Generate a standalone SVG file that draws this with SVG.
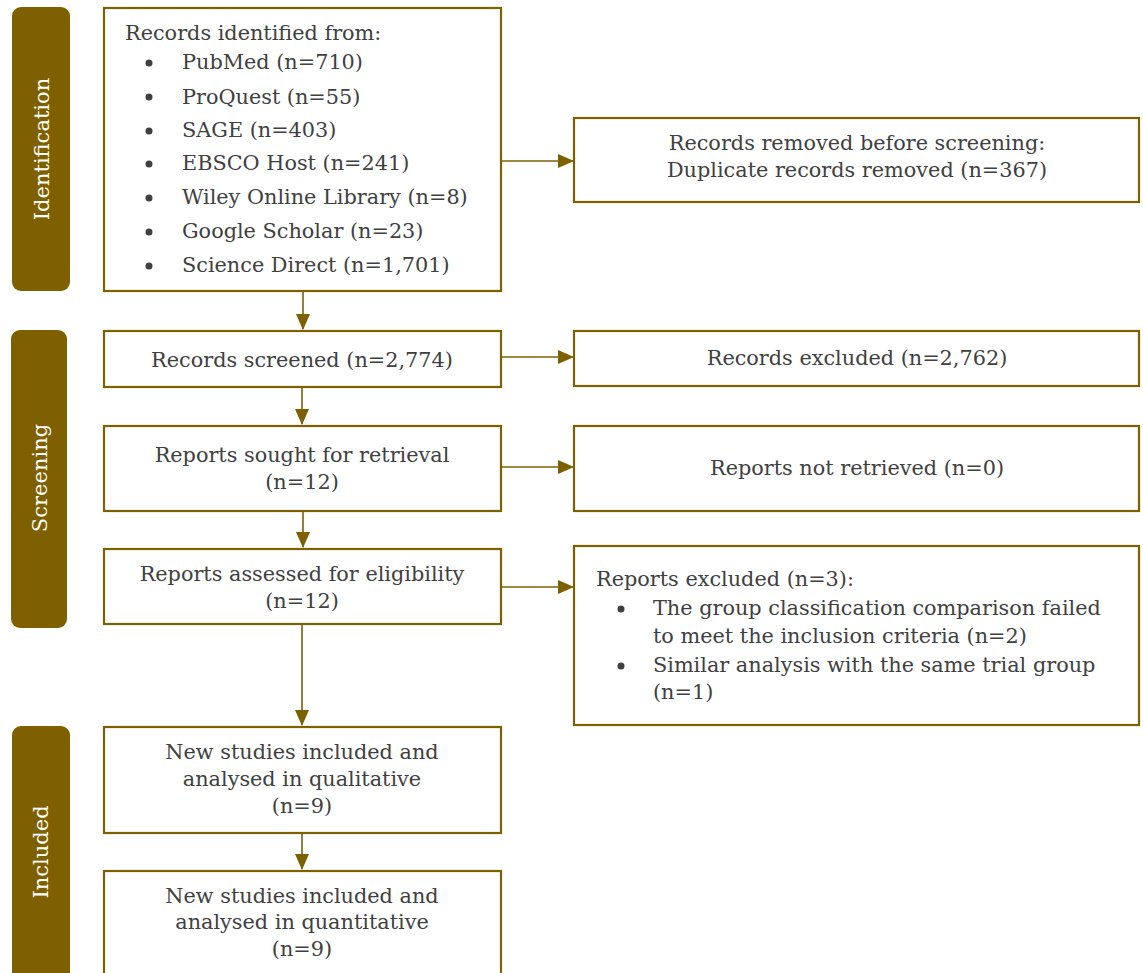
<svg xmlns="http://www.w3.org/2000/svg" width="1143" height="973" viewBox="0 0 1143 973">
<defs>
<marker id="ah" markerWidth="16" markerHeight="14" refX="15" refY="7" orient="auto" markerUnits="userSpaceOnUse" viewBox="0 0 16 14">
<path d="M0,0 L16,7 L0,14 z" fill="#7F6000"/>
</marker>
<style>
.box{fill:#fff;stroke:#7F6000;stroke-width:2.2}
.side{fill:#7F6000}
.t{font-family:"DejaVu Serif","Liberation Serif",serif;font-size:20.8px;fill:#404040}
.c{text-anchor:middle}
.s{font-family:"DejaVu Serif","Liberation Serif",serif;font-size:21px;fill:#fff;text-anchor:middle}
.ln{stroke:#7F6000;stroke-width:1.6;fill:none}
.b{fill:#404040}
</style>
</defs>
<rect width="1143" height="973" fill="#fff"/>

<g id="side-identification"><rect class="side" x="12" y="7" width="58" height="284" rx="9"/><text class="s" transform="translate(49,149) rotate(-90)">Identification</text></g>
<g id="side-screening"><rect class="side" x="11" y="330" width="56" height="298" rx="9"/><text class="s" transform="translate(47,478) rotate(-90)">Screening</text></g>
<g id="side-included"><rect class="side" x="12" y="726" width="58" height="260" rx="9"/><text class="s" transform="translate(48,852) rotate(-90)">Included</text></g>

<g id="identified">
<rect class="box" x="104" y="8" width="397" height="283"/>
<text class="t" x="125" y="40">Records identified from:</text>
<circle class="b" cx="149" cy="63" r="3.5"/><text class="t" x="182" y="69">PubMed (n=710)</text>
<circle class="b" cx="149" cy="97" r="3.5"/><text class="t" x="182" y="104">ProQuest (n=55)</text>
<circle class="b" cx="149" cy="131" r="3.5"/><text class="t" x="182" y="137">SAGE (n=403)</text>
<circle class="b" cx="149" cy="164" r="3.5"/><text class="t" x="182" y="170">EBSCO Host (n=241)</text>
<circle class="b" cx="149" cy="198" r="3.5"/><text class="t" x="182" y="204">Wiley Online Library (n=8)</text>
<circle class="b" cx="149" cy="232" r="3.5"/><text class="t" x="182" y="238">Google Scholar (n=23)</text>
<circle class="b" cx="149" cy="266" r="3.5"/><text class="t" x="182" y="272">Science Direct (n=1,701)</text>
</g>

<g id="removed">
<rect class="box" x="574" y="118" width="565" height="84"/>
<text class="t c" x="857" y="150">Records removed before screening:</text>
<text class="t c" x="857" y="177">Duplicate records removed (n=367)</text>
</g>

<g id="screened"><rect class="box" x="104" y="331" width="397" height="56"/><text class="t c" x="302" y="367">Records screened (n=2,774)</text></g>
<g id="excluded"><rect class="box" x="574" y="331" width="565" height="55"/><text class="t c" x="857" y="365">Records excluded (n=2,762)</text></g>

<g id="sought"><rect class="box" x="104" y="426" width="397" height="85"/><text class="t c" x="302" y="462">Reports sought for retrieval</text><text class="t c" x="302" y="489">(n=12)</text></g>
<g id="notretrieved"><rect class="box" x="574" y="426" width="565" height="85"/><text class="t c" x="857" y="475">Reports not retrieved (n=0)</text></g>

<g id="assessed"><rect class="box" x="104" y="549" width="397" height="75"/><text class="t c" x="302" y="581">Reports assessed for eligibility</text><text class="t c" x="302" y="608">(n=12)</text></g>
<g id="reportsexcluded">
<rect class="box" x="574" y="546" width="565" height="179"/>
<text class="t" x="596" y="586">Reports excluded (n=3):</text>
<circle class="b" cx="621" cy="609" r="3.5"/><text class="t" x="653" y="615">The group classification comparison failed</text>
<text class="t" x="653" y="643">to meet the inclusion criteria (n=2)</text>
<circle class="b" cx="621" cy="666" r="3.5"/><text class="t" x="653" y="672">Similar analysis with the same trial group</text>
<text class="t" x="653" y="699">(n=1)</text>
</g>

<g id="qualitative"><rect class="box" x="104" y="727" width="397" height="106"/><text class="t c" x="302" y="759">New studies included and</text><text class="t c" x="302" y="786">analysed in qualitative</text><text class="t c" x="302" y="813">(n=9)</text></g>
<g id="quantitative"><rect class="box" x="104" y="871" width="397" height="110"/><text class="t c" x="302" y="903">New studies included and</text><text class="t c" x="302" y="929">analysed in quantitative</text><text class="t c" x="302" y="956">(n=9)</text></g>

<g id="connectors">
<line class="ln" x1="501" y1="161" x2="573" y2="161" marker-end="url(#ah)"/>
<line class="ln" x1="303" y1="291" x2="303" y2="329" marker-end="url(#ah)"/>
<line class="ln" x1="501" y1="357" x2="573" y2="357" marker-end="url(#ah)"/>
<line class="ln" x1="302" y1="387" x2="302" y2="424" marker-end="url(#ah)"/>
<line class="ln" x1="501" y1="467" x2="573" y2="467" marker-end="url(#ah)"/>
<line class="ln" x1="303" y1="511" x2="303" y2="547" marker-end="url(#ah)"/>
<line class="ln" x1="501" y1="587" x2="573" y2="587" marker-end="url(#ah)"/>
<line class="ln" x1="302" y1="624" x2="302" y2="725" marker-end="url(#ah)"/>
<line class="ln" x1="302" y1="833" x2="302" y2="869" marker-end="url(#ah)"/>
</g>
</svg>
